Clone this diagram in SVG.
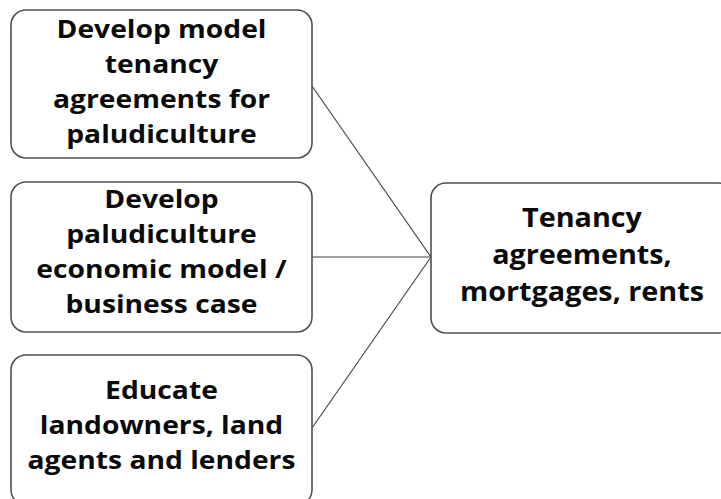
<svg xmlns="http://www.w3.org/2000/svg" width="721" height="499" viewBox="0 0 721 499">
<style>
.box{fill:#ffffff;stroke:#505050;stroke-width:1.6}
.conn{fill:none;stroke:#404040;stroke-width:1.1}
.t{font-family:"Open Sans","DejaVu Sans",sans-serif;font-weight:bold;font-size:25px;fill:#0a0a0a;text-anchor:middle}
.tr{font-size:27px}
</style>
<rect width="721" height="499" fill="#ffffff"/>
<g id="connectors">
<line class="conn" x1="312" y1="86" x2="431" y2="257"/>
<line class="conn" x1="312" y1="257" x2="431" y2="257"/>
<line class="conn" x1="312" y1="428" x2="431" y2="257"/>
</g>
<g id="node1">
<rect class="box" x="11" y="10" width="301" height="148" rx="15"/>
<g transform="matrix(1.13 0 0 1 -20.995 0)">
<text class="t" x="161.5" y="38">Develop model</text>
<text class="t" x="161.5" y="73">tenancy</text>
<text class="t" x="161.5" y="108">agreements for</text>
<text class="t" x="161.5" y="143">paludiculture</text>
</g>
</g>
<g id="node2">
<rect class="box" x="11" y="182" width="301" height="150" rx="15"/>
<g transform="matrix(1.13 0 0 1 -20.995 0)">
<text class="t" x="161.5" y="208">Develop</text>
<text class="t" x="161.5" y="243">paludiculture</text>
<text class="t" x="161.5" y="278">economic model /</text>
<text class="t" x="161.5" y="313">business case</text>
</g>
</g>
<g id="node3">
<rect class="box" x="11" y="355" width="301" height="150" rx="15"/>
<g transform="matrix(1.13 0 0 1 -20.995 0)">
<text class="t" x="161.5" y="399">Educate</text>
<text class="t" x="161.5" y="434">landowners, land</text>
<text class="t" x="161.5" y="469">agents and lenders</text>
</g>
</g>
<g id="node4">
<rect class="box" x="431" y="183" width="302" height="150" rx="15"/>
<g transform="matrix(1.065 0 0 1 -37.83 0)">
<text class="t tr" x="582" y="227">Tenancy</text>
<text class="t tr" x="582" y="264">agreements,</text>
<text class="t tr" x="582" y="301">mortgages, rents</text>
</g>
</g>
</svg>
